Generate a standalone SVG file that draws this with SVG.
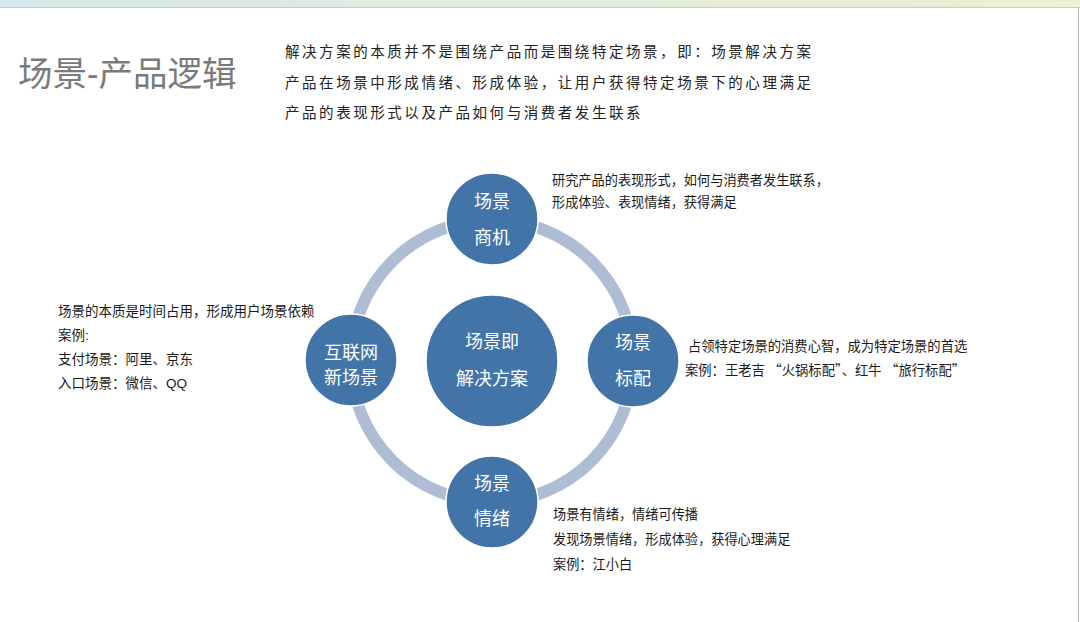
<svg xmlns="http://www.w3.org/2000/svg" width="1080" height="622" viewBox="0 0 1080 622">
<defs>
<linearGradient id="band" x1="0" y1="0" x2="1" y2="0">
<stop offset="0" stop-color="#d6e8e8"/>
<stop offset="1" stop-color="#edf0d2"/>
</linearGradient>
<style>
.t{font-family:"Liberation Sans","Noto Sans CJK SC",sans-serif;}
.note{font-size:13.5px;fill:#1a1a1a;}
.lbl{font-size:18px;fill:#ffffff;text-anchor:middle;}
.node{fill:#4374a8;stroke:#ffffff;stroke-width:1.5;}
.para{font-family:"Liberation Serif","Noto Sans CJK SC",serif;font-size:14.5px;fill:#222;letter-spacing:2.55px;}
.q{font-family:"Noto Sans CJK SC",sans-serif;}
</style>
</defs>
<rect width="1080" height="622" fill="#ffffff"/>
<rect x="0" y="0" width="1080" height="7" fill="url(#band)"/>
<line x1="0" y1="7.5" x2="1080" y2="7.5" stroke="#c8cfc8" stroke-width="1"/>
<line x1="1078.5" y1="7" x2="1078.5" y2="622" stroke="#b8bdb0" stroke-width="1"/>

<text class="t" x="18" y="86" font-size="34.5" fill="#7a7a7a">场景-产品逻辑</text>
<g class="para">
<text x="285" y="57">解决方案的本质并不是围绕产品而是围绕特定场景，即：场景解决方案</text>
<text x="285" y="88">产品在场景中形成情绪、形成体验，让用户获得特定场景下的心理满足</text>
<text x="285" y="118">产品的表现形式以及产品如何与消费者发生联系</text>
</g>

<g id="connectors">
<circle cx="492" cy="361" r="141" fill="none" stroke="#afbdd4" stroke-width="12"/>
</g>

<g id="center">
<circle class="node" cx="492" cy="361" r="66"/>
<text class="t lbl" x="492" y="348">场景即</text>
<text class="t lbl" x="492" y="385">解决方案</text>
</g>
<g id="top">
<circle class="node" cx="492" cy="219" r="46"/>
<text class="t lbl" x="492" y="208">场景</text>
<text class="t lbl" x="492" y="244">商机</text>
</g>
<g id="left">
<circle class="node" cx="351" cy="360" r="46"/>
<text class="t lbl" x="351" y="359">互联网</text>
<text class="t lbl" x="351" y="384">新场景</text>
</g>
<g id="right">
<circle class="node" cx="633" cy="361" r="46"/>
<text class="t lbl" x="633" y="349">场景</text>
<text class="t lbl" x="633" y="385">标配</text>
</g>
<g id="bottom">
<circle class="node" cx="492" cy="502" r="46"/>
<text class="t lbl" x="492" y="490">场景</text>
<text class="t lbl" x="492" y="525">情绪</text>
</g>

<g id="notes" class="t note">
<text x="552" y="185" font-size="13.2">研究产品的表现形式，如何与消费者发生联系，</text>
<text x="552" y="207" font-size="13.2">形成体验、表现情绪，获得满足</text>
<text x="58" y="316">场景的本质是时间占用，形成用户场景依赖</text>
<text x="58" y="340">案例:</text>
<text x="58" y="364">支付场景：阿里、京东</text>
<text x="58" y="388">入口场景：微信、QQ</text>
<text x="688" y="351" font-size="13.3">占领特定场景的消费心智，成为特定场景的首选</text>
<text x="685" y="375" font-size="13.3">案例：王老吉 <tspan class="q">“</tspan>火锅标配<tspan class="q">”</tspan>、红牛 <tspan class="q">“</tspan>旅行标配<tspan class="q">”</tspan></text>
<text x="553" y="519" font-size="13.2">场景有情绪，情绪可传播</text>
<text x="553" y="544" font-size="13.2">发现场景情绪，形成体验，获得心理满足</text>
<text x="553" y="569" font-size="13.2">案例：江小白</text>
</g>
</svg>
